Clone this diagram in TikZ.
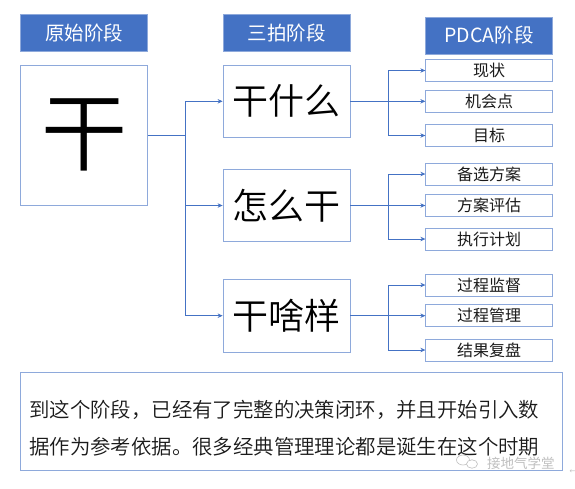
\documentclass[tikz,border=0pt]{standalone}
\usepackage{fontspec}
\setmainfont{Noto Sans CJK SC}
\newfontfamily\cjk{Noto Sans CJK SC DemiLight}
\newfontfamily\cjkr{Noto Sans CJK SC}
\newfontfamily\djv{DejaVu Sans}
\usetikzlibrary{arrows.meta}
\definecolor{hdrblue}{HTML}{4472C4}
\definecolor{boxline}{HTML}{8EA9DB}
\definecolor{linkblue}{HTML}{4472C4}
\definecolor{txt}{HTML}{1A1A1A}
\definecolor{wm}{HTML}{BFBFBF}
\tikzset{
  hdr/.style={rectangle, fill=hdrblue, draw=boxline, line width=0.6pt, inner sep=0pt,
    minimum width=127pt, minimum height=37pt, text=white, font=\cjkr\fontsize{19.5}{22}\selectfont},
  bigbox/.style={rectangle, draw=boxline, line width=0.8pt, inner sep=0pt, fill=white,
    minimum width=127pt, minimum height=140pt, text=black, font=\cjk\fontsize{86}{90}\selectfont},
  midbox/.style={rectangle, draw=boxline, line width=0.8pt, inner sep=0pt, fill=white,
    minimum width=127pt, minimum height=72.5pt, text=black, font=\cjk\fontsize{36}{40}\selectfont},
  smallbox/.style={rectangle, draw=boxline, line width=0.8pt, inner sep=0pt, fill=white,
    minimum width=126.5pt, minimum height=22pt, text=txt, font=\cjkr\fontsize{16}{18}\selectfont},
  notebox/.style={rectangle, draw=boxline, line width=0.8pt, inner sep=0pt,
    minimum width=542pt, minimum height=98.4pt},
  notetext/.style={anchor=west, inner sep=0pt, text=txt, font=\cjk\fontsize{20.4}{24}\selectfont},
  link/.style={draw=linkblue, line width=0.7pt, -{Stealth[length=5pt,width=4.5pt]}},
  plainlink/.style={draw=linkblue, line width=0.7pt}
}
\begin{document}
\begin{tikzpicture}[x=1pt,y=-1pt]
\useasboundingbox[fill=white] (0,0) rectangle (575,488);
% headers
\node[hdr] (h1) at (84,33) {原始阶段};
\node[hdr] (h2) at (286.5,33) {三拍阶段};
\node[hdr] (h3) at (489,35.3) {PDCA阶段};
% main boxes
\node[bigbox] (big) at (84,135.3) {干};
\node[midbox] (m1) at (286.5,101.3) {干什么};
\node[midbox] (m2) at (286.5,205.5) {怎么干};
\node[midbox] (m3) at (286.5,315.7) {干啥样};
% small boxes
\node[smallbox] (s1) at (489,70.5) {现状};
\node[smallbox] (s2) at (489,101.3) {机会点};
\node[smallbox] (s3) at (489,135.5) {目标};
\node[smallbox] (s4) at (489,174) {备选方案};
\node[smallbox] (s5) at (489,205.5) {方案评估};
\node[smallbox] (s6) at (489,239) {执行计划};
\node[smallbox] (s7) at (489,285) {过程监督};
\node[smallbox] (s8) at (489,315.7) {过程管理};
\node[smallbox] (s9) at (489,350) {结果复盘};
% junction columns
\coordinate (j1) at (185.3,0);
\coordinate (j2) at (388.3,0);
% left connectors
\draw[plainlink] (big.east) -- (big.east -| j1);
\draw[link] (big.east -| j1) |- (m1.west);
\draw[link] (big.east -| j1) |- (m2.west);
\draw[link] (big.east -| j1) |- (m3.west);
% right connectors
\foreach \m/\a/\b/\c in {m1/s1/s2/s3, m2/s4/s5/s6, m3/s7/s8/s9}{
  \draw[plainlink] (\m.east) -- (\m.east -| j2);
  \draw[link] (\m.east -| j2) |- (\a.west);
  \draw[link] (\m.east -| j2) -- (\b.west);
  \draw[link] (\m.east -| j2) |- (\c.west);
}
% note box
\node[notebox] (note) at (291.7,421.5) {};
\node[notetext] (l1) at (29,410) {到这个阶段，已经有了完整的决策闭环，并且开始引入数};
\node[notetext] (l2) at (29,446.5) {据作为参考依据。很多经典管理理论都是诞生在这个时期};
% watermark
\draw[wm, line width=0.6pt] (463,460) ellipse (6.5pt and 5pt);
\draw[wm, line width=0.6pt, fill=white] (472,464) ellipse (5.5pt and 4.2pt);
\node[anchor=west, inner sep=0pt, text=wm, font=\cjkr\fontsize{13.5}{16}\selectfont] (wmt) at (487,463) {接地气学堂};
\node[inner sep=0pt, text=wm, font=\djv\fontsize{7}{8}\selectfont] (ret) at (572.5,472) {←};
\end{tikzpicture}
\end{document}
